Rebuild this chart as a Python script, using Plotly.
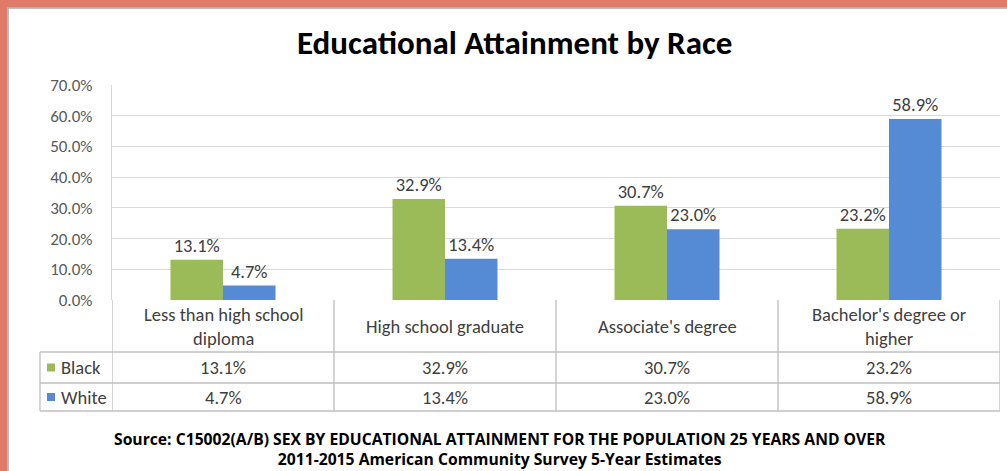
import plotly.graph_objects as go

categories = ["Less than high school diploma", "High school graduate",
              "Associate's degree", "Bachelor's degree or higher"]
category_labels = ["Less than high school<br>diploma", "High school graduate",
                   "Associate's degree", "Bachelor's degree or<br>higher"]
black_values = [13.1, 32.9, 30.7, 23.2]
white_values = [4.7, 13.4, 23.0, 58.9]
series_names = ["Black", "White"]
y_ticks = [0, 10, 20, 30, 40, 50, 60, 70]
source_lines = ["Source: C15002(A/B) SEX BY EDUCATIONAL ATTAINMENT FOR THE POPULATION 25 YEARS AND OVER",
                "2011-2015 American Community Survey 5-Year Estimates"]

GREEN = "#9BBB59"
BLUE = "#558BD5"
SALMON = "#E07B6A"
GRID = "#D9D9D9"
TBL = "#BFBFBF"
FONT = "Carlito, Calibri, Lato, sans-serif"
SRC_FONT = "Open Sans, sans-serif"

W, H = 1007, 471
L, R, T, B = 112, 7, 85, 171
PW, PH = W - L - R, H - T - B


def py(pix):
    return (H - B - pix) / PH


def px(pix):
    return (pix - L) / PW


fig = go.Figure()
for name, vals, col in [(series_names[0], black_values, GREEN),
                        (series_names[1], white_values, BLUE)]:
    fig.add_trace(go.Bar(
        x=categories, y=vals, name=name, marker=dict(color=col, line=dict(width=0)),
        texttemplate="%{y:.1f}%", textposition="outside",
        textfont=dict(family=FONT, size=18.5, color="#404040"),
        cliponaxis=False, showlegend=False))

shapes = []
# salmon frame (top and left)
shapes.append(dict(type="rect", xref="paper", yref="paper", layer="below",
                   x0=px(0), x1=px(W), y0=py(0), y1=py(7.5),
                   fillcolor=SALMON, line=dict(width=0)))
shapes.append(dict(type="line", xref="paper", yref="paper", layer="below",
                   x0=px(3.5), x1=px(3.5), y0=py(7), y1=py(H + 2),
                   line=dict(color=SALMON, width=7.5)))
shapes.append(dict(type="line", xref="paper", yref="paper", layer="below",
                   x0=px(7.5), x1=px(W), y0=py(8), y1=py(8),
                   line=dict(color="#A8A8A8", width=1.5)))
shapes.append(dict(type="line", xref="paper", yref="paper", layer="below",
                   x0=px(8), x1=px(8), y0=py(7.5), y1=py(H),
                   line=dict(color="#A8A8A8", width=1.5)))
# table horizontal lines
for yy in [352, 383, 411]:
    shapes.append(dict(type="line", xref="paper", yref="paper",
                       x0=px(40), x1=px(1000), y0=py(yy), y1=py(yy),
                       line=dict(color=TBL, width=1.3)))
# table left border
shapes.append(dict(type="line", xref="paper", yref="paper",
                   x0=px(40), x1=px(40), y0=py(352), y1=py(411),
                   line=dict(color=TBL, width=1.3)))
# category boundaries
for i in range(len(categories) + 1):
    shapes.append(dict(type="line", xref="x", yref="paper",
                       x0=i - 0.5, x1=i - 0.5, y0=py(300), y1=py(411),
                       line=dict(color=TBL, width=1.3)))
# legend keys
for (cy, col) in [(367.5, GREEN), (397, BLUE)]:
    shapes.append(dict(type="rect", xref="paper", yref="paper",
                       x0=px(47), x1=px(55), y0=py(cy - 4), y1=py(cy + 4),
                       fillcolor=col, line=dict(width=0)))

TXT = dict(family=FONT, size=18.5, color="#404040")
ann = []
for cat, lab in zip(categories, category_labels):
    ann.append(dict(x=cat, xref="x", y=py(326.5), yref="paper", text=lab,
                    showarrow=False, font=TXT,
                    xanchor="center", yanchor="middle"))
for row_y, vals in [(367.5, black_values), (397, white_values)]:
    for cat, v in zip(categories, vals):
        ann.append(dict(x=cat, xref="x", y=py(row_y), yref="paper", text=f"{v:.1f}%",
                        showarrow=False, font=TXT,
                        xanchor="center", yanchor="middle"))
for row_y, nm in [(367.5, series_names[0]), (397, series_names[1])]:
    ann.append(dict(x=px(59), xref="paper", y=py(row_y), yref="paper", text=nm,
                    showarrow=False, font=TXT,
                    xanchor="left", yanchor="middle"))
# title
ann.append(dict(x=px(514), xref="paper", y=py(43), yref="paper",
                text="<b>Educational Attainment by Race</b>", showarrow=False,
                font=dict(family=FONT, size=33, color="#000000"),
                xanchor="center", yanchor="middle"))
# source (two lines in one block)
ann.append(dict(x=px(500), xref="paper", y=py(472), yref="paper",
                text="<br>".join(f"<b>{s}</b>" for s in source_lines),
                showarrow=False, align="center",
                font=dict(family=SRC_FONT, size=15.7, color="#000000"),
                xanchor="center", yanchor="bottom"))

fig.update_layout(
    width=W, height=H, margin=dict(l=L, r=R, t=T, b=B, pad=0),
    paper_bgcolor="white", plot_bgcolor="rgba(0,0,0,0)",
    barmode="group", bargap=0.527, bargroupgap=0,
    shapes=shapes, annotations=ann, showlegend=False,
    xaxis=dict(showticklabels=False, showgrid=False, zeroline=False, showline=False,
               ticks="", range=[-0.5, 3.5]),
    yaxis=dict(range=[0, 70], tickvals=y_ticks, ticktext=[f"{t:.1f}%" for t in y_ticks],
               showgrid=True, gridcolor=GRID, gridwidth=1.3, zeroline=False,
               showline=True, linecolor=GRID, linewidth=1.3, ticks="",
               ticklabelstandoff=15,
               tickfont=dict(family=FONT, size=17, color="#595959")),
)

fig.write_html("out.html")
